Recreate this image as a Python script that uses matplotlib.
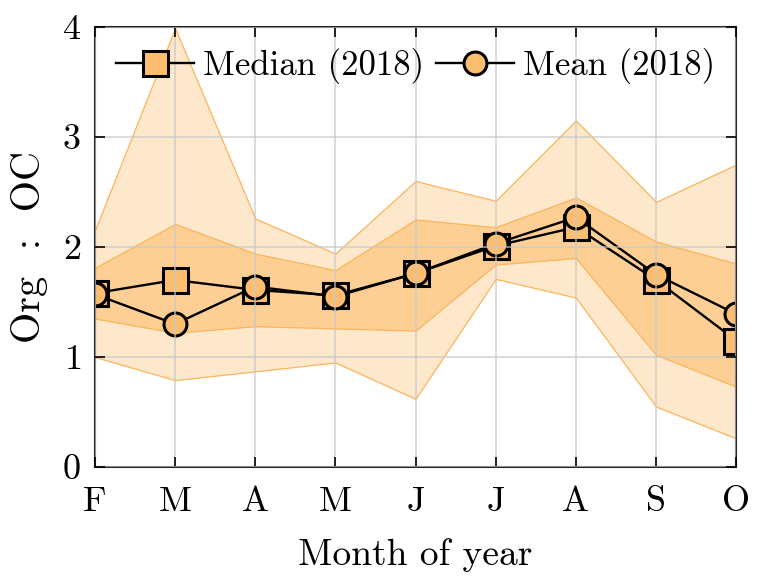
import matplotlib
matplotlib.use("Agg")
import matplotlib.pyplot as plt

plt.rcParams['font.family'] = 'cmr10'
plt.rcParams['mathtext.fontset'] = 'cm'
plt.rcParams['axes.formatter.use_mathtext'] = True

meses = ["F", "M", "A", "M", "J", "J", "A", "S", "O"]
mediana = [1.58, 1.70, 1.61, 1.56, 1.76, 2.01, 2.18, 1.70, 1.15]
media = [1.57, 1.30, 1.64, 1.55, 1.76, 2.03, 2.27, 1.75, 1.39]
p25 = [1.35, 1.22, 1.28, 1.26, 1.24, 1.84, 1.90, 1.02, 0.73]
p75 = [1.81, 2.21, 1.94, 1.79, 2.25, 2.18, 2.45, 2.05, 1.85]
p05 = [1.00, 0.79, 0.87, 0.95, 0.62, 1.71, 1.54, 0.55, 0.26]
p95 = [2.15, 3.99, 2.26, 1.94, 2.60, 2.42, 3.15, 2.41, 2.75]

laranja = "#fdbf6f"
x = list(range(len(meses)))

fig = plt.figure(figsize=(7.59, 5.86), dpi=100)
ax = fig.add_axes([0.125, 0.203, 0.845, 0.751])

ax.fill_between(x, p05, p95, facecolor=(253/255, 191/255, 111/255, 0.35),
                edgecolor="#fbb55a", linewidth=0.9)
ax.fill_between(x, p25, p75, facecolor=(253/255, 191/255, 111/255, 0.6),
                edgecolor="#fbb55a", linewidth=0.9)

ax.plot(x, mediana, "-s", color="black", markerfacecolor=laranja,
        markeredgecolor="black", markersize=18, markeredgewidth=2.2,
        linewidth=1.7, label="Median (2018)")
ax.plot(x, media, "-o", color="black", markerfacecolor=laranja,
        markeredgecolor="black", markersize=16.5, markeredgewidth=2.2,
        linewidth=1.7, label="Mean (2018)")

ax.set_xlim(0, len(meses) - 1)
ax.set_ylim(0, 4)
ax.set_xticks(x)
ax.set_xticklabels(meses)
ax.set_yticks([0, 1, 2, 3, 4])
ax.tick_params(direction="in", length=7, width=1.2, labelsize=26,
               top=True, right=True)
ax.tick_params(axis="x", pad=14)
ax.tick_params(axis="y", pad=10)
ax.grid(True, color="#c8c8c8", linewidth=1.3, alpha=0.7)
ax.set_axisbelow(False)
for s in ax.spines.values():
    s.set_linewidth(1.5)
    s.set_color("#262626")

ax.set_xlabel("Month of year", fontsize=27, labelpad=14)
ax.set_ylabel("Org  :  OC", fontsize=29, labelpad=10)

ax.legend(loc="upper center", ncol=2, frameon=False, fontsize=25,
          handlelength=2.25, columnspacing=0.35, handletextpad=0.25,
          borderaxespad=0.2, bbox_to_anchor=(0.5, 1.0))

plt.savefig("out.png", dpi=100)
